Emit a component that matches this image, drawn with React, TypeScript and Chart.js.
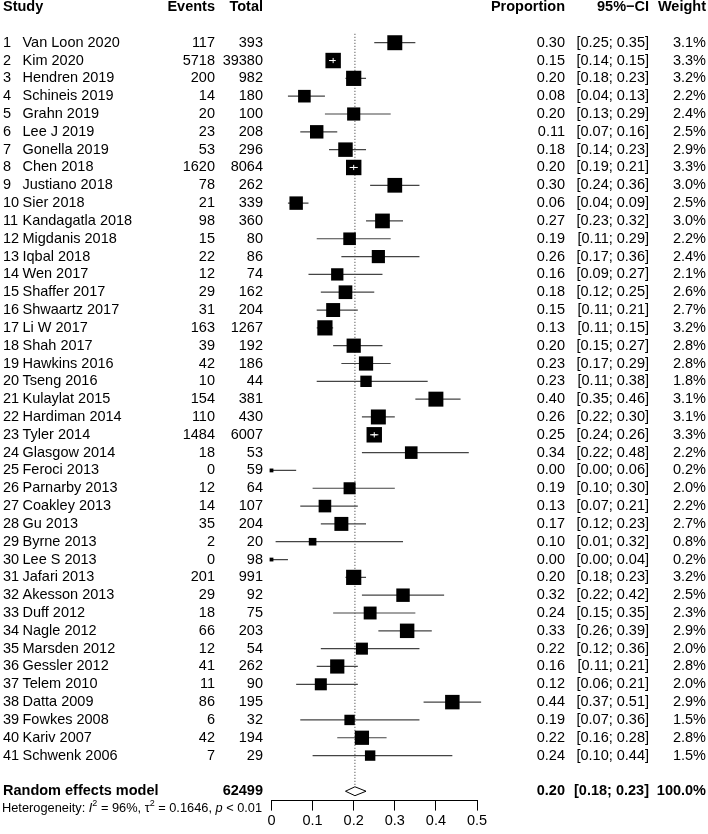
import React, { useEffect, useRef } from "react";
import { Chart, registerables } from "chart.js";

Chart.register(...registerables);

// ---------------- data ----------------
const studies = [
  "Van Loon 2020", "Kim 2020", "Hendren 2019", "Schineis 2019", "Grahn 2019",
  "Lee J 2019", "Gonella 2019", "Chen 2018", "Justiano 2018", "Sier 2018",
  "Kandagatla 2018", "Migdanis 2018", "Iqbal 2018", "Wen 2017", "Shaffer 2017",
  "Shwaartz 2017", "Li W 2017", "Shah 2017", "Hawkins 2016", "Tseng 2016",
  "Kulaylat 2015", "Hardiman 2014", "Tyler 2014", "Glasgow 2014", "Feroci 2013",
  "Parnarby 2013", "Coakley 2013", "Gu 2013", "Byrne 2013", "Lee S 2013",
  "Jafari 2013", "Akesson 2013", "Duff 2012", "Nagle 2012", "Marsden 2012",
  "Gessler 2012", "Telem 2010", "Datta 2009", "Fowkes 2008", "Kariv 2007",
  "Schwenk 2006",
];
const events = [
  117, 5718, 200, 14, 20, 23, 53, 1620, 78, 21,
  98, 15, 22, 12, 29, 31, 163, 39, 42, 10,
  154, 110, 1484, 18, 0, 12, 14, 35, 2, 0,
  201, 29, 18, 66, 12, 41, 11, 86, 6, 42,
  7,
];
const totals = [
  393, 39380, 982, 180, 100, 208, 296, 8064, 262, 339,
  360, 80, 86, 74, 162, 204, 1267, 192, 186, 44,
  381, 430, 6007, 53, 59, 64, 107, 204, 20, 98,
  991, 92, 75, 203, 54, 262, 90, 195, 32, 194,
  29,
];
const proportions = [
  0.30, 0.15, 0.20, 0.08, 0.20, 0.11, 0.18, 0.20, 0.30, 0.06,
  0.27, 0.19, 0.26, 0.16, 0.18, 0.15, 0.13, 0.20, 0.23, 0.23,
  0.40, 0.26, 0.25, 0.34, 0.00, 0.19, 0.13, 0.17, 0.10, 0.00,
  0.20, 0.32, 0.24, 0.33, 0.22, 0.16, 0.12, 0.44, 0.19, 0.22,
  0.24,
];
const ciLower = [
  0.25, 0.14, 0.18, 0.04, 0.13, 0.07, 0.14, 0.19, 0.24, 0.04,
  0.23, 0.11, 0.17, 0.09, 0.12, 0.11, 0.11, 0.15, 0.17, 0.11,
  0.35, 0.22, 0.24, 0.22, 0.00, 0.10, 0.07, 0.12, 0.01, 0.00,
  0.18, 0.22, 0.15, 0.26, 0.12, 0.11, 0.06, 0.37, 0.07, 0.16,
  0.10,
];
const ciUpper = [
  0.35, 0.15, 0.23, 0.13, 0.29, 0.16, 0.23, 0.21, 0.36, 0.09,
  0.32, 0.29, 0.36, 0.27, 0.25, 0.21, 0.15, 0.27, 0.29, 0.38,
  0.46, 0.30, 0.26, 0.48, 0.06, 0.30, 0.21, 0.23, 0.32, 0.04,
  0.23, 0.42, 0.35, 0.39, 0.36, 0.21, 0.21, 0.51, 0.36, 0.28,
  0.44,
];
const weights = [
  3.1, 3.3, 3.2, 2.2, 2.4, 2.5, 2.9, 3.3, 3.0, 2.5,
  3.0, 2.2, 2.4, 2.1, 2.6, 2.7, 3.2, 2.8, 2.8, 1.8,
  3.1, 3.1, 3.3, 2.2, 0.2, 2.0, 2.2, 2.7, 0.8, 0.2,
  3.2, 2.5, 2.3, 2.9, 2.0, 2.8, 2.0, 2.9, 1.5, 2.8,
  1.5,
];
// studies (1-based) whose confidence interval lies inside the square
const ciInsideBox = [2, 8, 23];

const pooledLabel = "Random effects model";
const pooledTotal = 62499;
const pooledEst = 0.203;
const pooledLower = 0.18;
const pooledUpper = 0.23;
const pooledWeight = "100.0%";

const headers = ["Study", "Events", "Total", "Proportion", "95%\u2212CI", "Weight"];
const xTicks = [0, 0.1, 0.2, 0.3, 0.4, 0.5];
const xTickLabels = ["0", "0.1", "0.2", "0.3", "0.4", "0.5"];

// ---------------- style / layout ----------------
const FAMILY = "'Liberation Sans', Arial, sans-serif";
const FS = 14.5;
const HET_FS = 12.8;
const COL = { num: 3, name: 22.5, events: 215, total: 263, prop: 565, ci: 649, weight: 706 };
const HEADER_ROW = -1;
const POOLED_ROW = 43;
const HET_ROW = 43.97;
const BOX_K = 8.5; // square side (px) per sqrt(weight)
const DIAMOND_HALF = 0.25;

const fmt2 = (v: number) => v.toFixed(2);

const textPlugin = {
  id: "forestText",
  afterDraw(chart: any) {
    const ctx: CanvasRenderingContext2D = chart.ctx;
    const ys = chart.scales.y;
    const font = (size: number, bold = false, italic = false) =>
      (ctx.font = `${italic ? "italic " : ""}${bold ? "bold " : ""}${size}px ${FAMILY}`);
    const txt = (s: string, x: number, y: number, align: CanvasTextAlign) => {
      ctx.textAlign = align;
      ctx.fillText(s, x, y);
    };
    ctx.save();
    ctx.fillStyle = "#000";
    ctx.textBaseline = "middle";

    // header
    const hy = ys.getPixelForValue(HEADER_ROW);
    font(FS, true);
    txt(headers[0], COL.num, hy, "left");
    txt(headers[1], COL.events, hy, "right");
    txt(headers[2], COL.total, hy, "right");
    txt(headers[3], COL.prop, hy, "right");
    txt(headers[4], COL.ci, hy, "right");
    txt(headers[5], COL.weight, hy, "right");

    // study rows
    font(FS);
    studies.forEach((name, i) => {
      const y = ys.getPixelForValue(i + 1);
      txt(String(i + 1), COL.num, y, "left");
      txt(name, COL.name, y, "left");
      txt(String(events[i]), COL.events, y, "right");
      txt(String(totals[i]), COL.total, y, "right");
      txt(fmt2(proportions[i]), COL.prop, y, "right");
      txt(`[${fmt2(ciLower[i])}; ${fmt2(ciUpper[i])}]`, COL.ci, y, "right");
      txt(`${weights[i].toFixed(1)}%`, COL.weight, y, "right");
    });

    // pooled row
    const py = ys.getPixelForValue(POOLED_ROW);
    font(FS, true);
    txt(pooledLabel, COL.num, py, "left");
    txt(String(pooledTotal), COL.total, py, "right");
    txt(fmt2(pooledEst), COL.prop, py, "right");
    txt(`[${fmt2(pooledLower)}; ${fmt2(pooledUpper)}]`, COL.ci, py, "right");
    txt(pooledWeight, COL.weight, py, "right");

    // heterogeneity
    const ty = ys.getPixelForValue(HET_ROW);
    const parts: [string, "n" | "i" | "s"][] = [
      ["Heterogeneity: ", "n"], ["I", "i"], ["2", "s"], [" = 96%, ", "n"],
      ["\u03c4", "n"], ["2", "s"], [" = 0.1646, ", "n"], ["p", "i"], [" < 0.01", "n"],
    ];
    let x = COL.num - 1;
    ctx.textAlign = "left";
    for (const [s, st] of parts) {
      if (st === "s") {
        font(HET_FS * 0.7);
        ctx.fillText(s, x, ty - 4.5);
      } else {
        font(HET_FS, false, st === "i");
        ctx.fillText(s, x, ty);
      }
      x += ctx.measureText(s).width;
    }
    ctx.restore();
  },
};

export default function App() {
  const ref = useRef<HTMLCanvasElement | null>(null);

  useEffect(() => {
    document.body.style.margin = "0";
    const canvas = ref.current;
    if (!canvas) return;

    const rows = studies.map((_, i) => i + 1);
    const ciNormal: any[] = [];
    const ciWhite: any[] = [];
    rows.forEach((r, i) => {
      const target = ciInsideBox.includes(r) ? ciWhite : ciNormal;
      target.push({ x: ciLower[i], y: r }, { x: ciUpper[i], y: r }, { x: null, y: null });
    });
    const squares = rows.map((r, i) => ({ x: proportions[i], y: r }));
    const radii = weights.map((w) => (BOX_K * Math.sqrt(w)) / Math.SQRT2);
    const crosses = rows
      .filter((r) => ciInsideBox.includes(r))
      .map((r) => ({ x: proportions[r - 1], y: r }));
    const diamond = [
      { x: pooledLower, y: POOLED_ROW },
      { x: pooledEst, y: POOLED_ROW - DIAMOND_HALF },
      { x: pooledUpper, y: POOLED_ROW },
      { x: pooledEst, y: POOLED_ROW + DIAMOND_HALF },
      { x: pooledLower, y: POOLED_ROW },
    ];
    const refLine = [
      { x: pooledEst, y: 0.5 },
      { x: pooledEst, y: POOLED_ROW - DIAMOND_HALF },
    ];

    const chart = new Chart(canvas, {
      type: "scatter",
      data: {
        datasets: [
          {
            data: crosses,
            pointStyle: "cross",
            pointRadius: 2.6,
            borderColor: "#fff",
            borderWidth: 1,
            showLine: false,
            clip: false,
          } as any,
          {
            data: ciWhite,
            showLine: true,
            borderColor: "#fff",
            borderWidth: 1,
            pointRadius: 0,
            spanGaps: false,
            clip: false,
          },
          {
            data: squares,
            pointStyle: "rect",
            pointRadius: radii,
            backgroundColor: "#000",
            borderColor: "#000",
            borderWidth: 0,
            showLine: false,
            clip: false,
          },
          {
            data: ciNormal,
            showLine: true,
            borderColor: "#444",
            borderWidth: 1.2,
            pointRadius: 0,
            spanGaps: false,
            clip: false,
          },
          {
            data: diamond,
            showLine: true,
            borderColor: "#000",
            borderWidth: 1,
            backgroundColor: "#fff",
            fill: false,
            pointRadius: 0,
            tension: 0,
            clip: false,
          },
          {
            data: refLine,
            showLine: true,
            borderColor: "#333",
            borderWidth: 1,
            borderDash: [1, 2],
            pointRadius: 0,
            clip: false,
          },
        ],
      },
      options: {
        responsive: false,
        animation: false,
        events: [],
        layout: { autoPadding: false, padding: { left: 271.5, right: 231, top: 0, bottom: 2 } },
        plugins: { legend: { display: false }, tooltip: { enabled: false } },
        scales: {
          x: {
            type: "linear",
            position: "bottom",
            min: 0,
            max: 0.5,
            afterBuildTicks: (s: any) => {
              s.ticks = xTicks.map((v) => ({ value: v }));
            },
            ticks: {
              color: "#000",
              padding: 2,
              font: { family: FAMILY, size: FS },
              maxRotation: 0,
              autoSkip: false,
              callback: (v: any) => {
                const idx = xTicks.findIndex((t) => Math.abs(t - Number(v)) < 1e-9);
                return idx >= 0 ? xTickLabels[idx] : "";
              },
            },
            grid: {
              display: true,
              drawOnChartArea: false,
              drawTicks: true,
              tickLength: 10,
              color: "#000",
              lineWidth: 1,
            },
            border: { display: true, color: "#000", width: 1 },
          },
          y: {
            type: "linear",
            display: false,
            reverse: true,
            min: -1.397,
            max: 43.526,
          },
        },
      } as any,
      plugins: [textPlugin],
    });

    return () => chart.destroy();
  }, []);

  return (
    <canvas
      ref={ref}
      width={708}
      height={834}
      style={{ display: "block", width: 708, height: 834 }}
    />
  );
}
